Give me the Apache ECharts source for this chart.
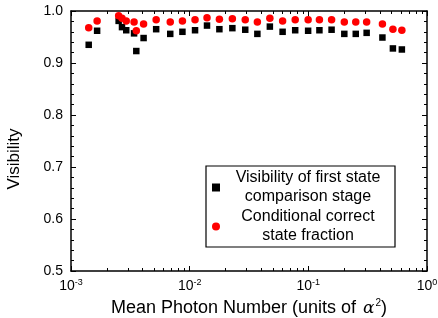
<!DOCTYPE html>
<html>
<head>
    <meta charset="UTF-8">
    <title>Visibility</title>
    <script src="https://cdn.jsdelivr.net/npm/echarts@6.0.0/dist/echarts.min.js"></script>
    <style>
        html, body { margin: 0; padding: 0; background: #fff; }
        #chart { width: 438px; height: 318px; }
    </style>
</head>
<body>
    <div id="chart"></div>

    <script>
        // mean photon number (x, log scale)
        const photonNumber = [
            0.00141, 0.00166, 0.00252, 0.00269, 0.00292, 0.00340, 0.00355, 0.00409,
            0.00522, 0.00686, 0.00869, 0.0111, 0.0140, 0.0178, 0.0229, 0.0294,
            0.0372, 0.0474, 0.0607, 0.0775, 0.0996, 0.124, 0.157, 0.201,
            0.251, 0.310, 0.421, 0.516, 0.614
        ];
        // black squares
        const visFirstStage = [
            0.935, 0.962, 0.981, 0.969, 0.963, 0.957, 0.923, 0.948,
            0.965, 0.956, 0.960, 0.963, 0.972, 0.965, 0.967, 0.964,
            0.956, 0.970, 0.960, 0.963, 0.962, 0.963, 0.964, 0.956,
            0.956, 0.958, 0.949, 0.928, 0.926
        ];
        // red circles
        const condCorrect = [
            0.968, 0.981, 0.991, 0.986, 0.981, 0.979, 0.962, 0.975,
            0.983, 0.979, 0.981, 0.983, 0.987, 0.984, 0.985, 0.983,
            0.979, 0.986, 0.981, 0.983, 0.983, 0.983, 0.983, 0.979,
            0.979, 0.979, 0.975, 0.965, 0.963
        ];
        const seriesNames = [
            'Visibility of first state\ncomparison stage',
            'Conditional correct\nstate fraction'
        ];

        const font = 'Liberation Sans, Arial, sans-serif';
        const myChart = echarts.init(document.getElementById('chart'));

        function pairs(ys) {
            return photonNumber.map((x, i) => [x, ys[i]]);
        }

        function logLabel(v) {
            const e = Math.round(Math.log10(v));
            return '10{s|' + e + '}';
        }

        const xBase = {
            type: 'log',
            logBase: 10,
            min: 0.001,
            max: 1,
            axisLine: { show: true, onZero: false, lineStyle: { color: '#000', width: 1.5 } },
            axisTick: { show: true, inside: true, length: 5, lineStyle: { color: '#000' } },
            splitLine: { show: false }
        };
        const yBase = {
            type: 'value',
            min: 0.5,
            max: 1.0,
            interval: 0.1,
            axisLine: { show: true, onZero: false, lineStyle: { color: '#000', width: 1.5 } },
            axisTick: { show: true, inside: true, length: 5, lineStyle: { color: '#000' } },
            minorTick: { show: true, splitNumber: 5, length: 3, lineStyle: { color: '#000' } },
            splitLine: { show: false }
        };

        const option = {
            animation: false,
            backgroundColor: '#fff',
            grid: { left: 71, right: 11, top: 11, bottom: 47, containLabel: false, outerBoundsMode: 'none' },
            xAxis: [
                Object.assign({}, xBase, {
                    position: 'bottom',
                    name: 'Mean Photon Number (units of {a|α}{sup|2})',
                    nameLocation: 'middle',
                    nameGap: 27,
                    nameTextStyle: {
                        fontFamily: font, fontSize: 18, color: '#000',
                        rich: {
                            a: { fontFamily: 'DejaVu Serif, serif', fontStyle: 'italic', fontSize: 17, color: '#000', padding: [0, 1, 0, 2] },
                            sup: { fontSize: 10, verticalAlign: 'top', padding: [0, 0, 10, 0], fontFamily: font, color: '#000' }
                        }
                    },
                    axisLabel: {
                        margin: 7,
                        fontFamily: font, fontSize: 14, color: '#000',
                        formatter: logLabel,
                        rich: { s: { fontSize: 9, padding: [0, 0, 8, 0], fontFamily: font, color: '#000' } }
                    }
                }),
                Object.assign({}, xBase, {
                    position: 'top',
                    axisLabel: { show: false }
                })
            ],
            yAxis: [
                Object.assign({}, yBase, {
                    position: 'left',
                    name: 'Visibility',
                    nameLocation: 'middle',
                    nameGap: 48,
                    nameTextStyle: { fontFamily: font, fontSize: 17, color: '#000', padding: [0, 0, 0, -36] },
                    axisLabel: {
                        margin: 8,
                        fontFamily: font, fontSize: 14, color: '#000',
                        formatter: v => v.toFixed(1)
                    }
                }),
                Object.assign({}, yBase, {
                    position: 'right',
                    axisLabel: { show: false }
                })
            ],
            legend: {
                left: 206,
                top: 166,
                width: 190,
                orient: 'vertical',
                borderColor: '#000',
                borderWidth: 1.2,
                borderRadius: 0,
                padding: [4, 4, 3, 6],
                itemGap: 4,
                itemWidth: 8,
                itemHeight: 8,
                data: [
                    { name: seriesNames[0], icon: 'rect', itemStyle: { color: '#000' } },
                    { name: seriesNames[1], icon: 'circle', itemStyle: { color: '#ff0000' } }
                ],
                formatter: name => name.split('\n').map(s => '{t|' + s + '}').join('\n'),
                textStyle: {
                    fontFamily: font, fontSize: 16, color: '#000',
                    rich: { t: { width: 166, align: 'center', fontFamily: font, fontSize: 16, lineHeight: 19, color: '#000' } }
                }
            },
            series: [
                {
                    name: seriesNames[0],
                    type: 'scatter',
                    symbol: 'rect',
                    symbolSize: 6.5,
                    itemStyle: { color: '#000', opacity: 1 },
                    data: pairs(visFirstStage)
                },
                {
                    name: seriesNames[1],
                    type: 'scatter',
                    symbol: 'circle',
                    symbolSize: 7.5,
                    itemStyle: { color: '#ff0000', opacity: 1 },
                    data: pairs(condCorrect)
                }
            ]
        };

        myChart.setOption(option);

        // log-axis minor ticks at 2..9 of each decade, top and bottom
        function addLogMinorTicks() {
            const yBottom = myChart.convertToPixel({ yAxisIndex: 0 }, 0.5);
            const yTop = myChart.convertToPixel({ yAxisIndex: 0 }, 1.0);
            const elements = [];
            for (let d = -3; d < 0; d++) {
                for (let k = 2; k <= 9; k++) {
                    const px = Math.round(myChart.convertToPixel({ xAxisIndex: 0 }, k * Math.pow(10, d))) + 0.5;
                    elements.push({ type: 'line', silent: true, shape: { x1: px, y1: yBottom, x2: px, y2: yBottom - 3 }, style: { stroke: '#000', lineWidth: 1 } });
                    elements.push({ type: 'line', silent: true, shape: { x1: px, y1: yTop, x2: px, y2: yTop + 3 }, style: { stroke: '#000', lineWidth: 1 } });
                }
            }
            myChart.setOption({ graphic: elements });
        }
        addLogMinorTicks();
    </script>
</body>
</html>
